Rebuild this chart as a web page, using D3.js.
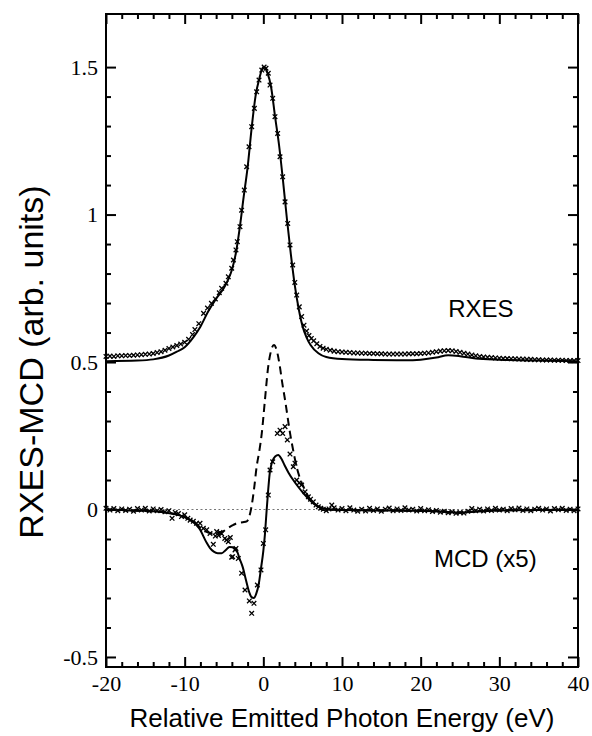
<!DOCTYPE html>
<html>
<head>
<meta charset="utf-8">
<script src="https://cdn.jsdelivr.net/npm/d3@7"></script>
<style>
body { margin: 0; background: #fff; }
svg { display: block; }
</style>
</head>
<body>
<div id="chart"></div>
<script>
"use strict";

// == DATA ==
// RXES measured points [energy eV, intensity]
var rxesData = [
	[-20, .519], [-19.5, .520], [-19, .519], [-18.5, .521], [-18, .521], [-17.5, .522], [-17, .522],
	[-16.5, .523], [-16, .524], [-15.5, .525], [-15, .526], [-14.5, .527], [-14, .529], [-13.5, .532],
	[-13, .535], [-12.5, .540], [-12, .546], [-11.5, .551], [-11, .556], [-10.5, .561], [-10, .567],
	[-9.5, .577], [-9, .593], [-8.7, .610], [-8.2, .630], [-7.6, .665], [-7.1, .683], [-6.6, .699],
	[-6.1, .714], [-5.6, .735], [-5.3, .750], [-4.75, .767], [-4.45, .789], [-4.02, .818], [-3.8, .846],
	[-3.48, .880], [-3.31, .908], [-2.97, .959], [-2.76, 1.015], [-2.42, 1.083], [-2.12, 1.162],
	[-1.82, 1.230], [-1.48, 1.298], [-1.14, 1.360], [-0.85, 1.416], [-0.55, 1.456], [-0.2, 1.490],
	[0.1, 1.500], [0.34, 1.496], [0.63, 1.479], [0.85, 1.439], [1.19, 1.394], [1.48, 1.332],
	[1.82, 1.275], [2.12, 1.196], [2.46, 1.128], [2.76, 1.043], [3.1, .970], [3.39, .897],
	[3.73, .829], [4.0, .770], [4.24, .727], [4.57, .687], [4.87, .654], [5.17, .625], [5.5, .605],
	[5.8, .590], [6.1, .580], [6.4, .572], [6.8, .562], [7.2, .553], [7.6, .547], [8, .543],
	[8.5, .540], [9, .537], [9.5, .535], [10, .534], [10.5, .533], [11, .532], [11.5, .531],
	[12, .531], [12.5, .530], [13, .530], [13.5, .529], [14, .529], [14.5, .528], [15, .528],
	[15.5, .527], [16, .527], [16.5, .527], [17, .527], [17.5, .527], [18, .527], [18.5, .528],
	[19, .528], [19.5, .528], [20, .529], [20.5, .530], [21, .531], [21.5, .533], [22, .535],
	[22.5, .537], [23, .538], [23.5, .539], [24, .538], [24.5, .536], [25, .533], [25.5, .530],
	[26, .527], [26.5, .524], [27, .521], [27.5, .519], [28, .517], [28.5, .516], [29, .515],
	[29.5, .514], [30, .513], [30.5, .512], [31, .512], [31.5, .511], [32, .511], [32.5, .510],
	[33, .510], [33.5, .509], [34, .509], [34.5, .508], [35, .508], [35.5, .507], [36, .507],
	[36.5, .507], [37, .506], [37.5, .506], [38, .506], [38.5, .505], [39, .505], [39.5, .505], [40, .505]
];

// RXES calculation (solid line)
var rxesCalc = [
	[-20, .503], [-16, .505], [-14, .509], [-12, .522], [-11, .535], [-10, .550], [-9, .580],
	[-8, .620], [-7, .672], [-6, .715], [-5, .752], [-4.5, .778], [-4, .812], [-3.5, .868],
	[-3, .955], [-2.5, 1.060], [-2, 1.160], [-1.5, 1.290], [-1, 1.400], [-0.5, 1.462], [0, 1.500],
	[0.5, 1.482], [1, 1.430], [1.5, 1.330], [2, 1.235], [2.5, 1.115], [3, .985], [3.5, .865],
	[4, .760], [4.5, .680], [5, .620], [5.5, .583], [6, .558], [7, .530], [8, .517], [10, .510],
	[14, .507], [18, .506], [20, .508], [22, .515], [23.5, .523], [25, .520], [27, .512],
	[30, .508], [35, .505], [40, .503]
];

// MCD (x5) measured points
var mcdData = [
	[-20, .004], [-19.5, -.002], [-19, .003], [-18.5, -.004], [-18, .002], [-17.5, -.003], [-17, .001],
	[-16.5, -.006], [-16, .003], [-15.5, -.002], [-15, .004], [-14.5, -.005], [-14, .002], [-13.5, -.004],
	[-13, .000], [-12.5, -.008], [-12, -.004], [-11.6, -.030], [-11.2, -.010], [-10.8, -.014],
	[-10.4, -.024], [-10, -.018], [-9.6, -.030], [-9.3, -.036], [-8.9, -.040], [-8.5, -.047],
	[-8.05, -.047], [-7.63, -.064], [-7.2, -.069], [-6.78, -.081], [-6.36, -.118], [-6.1, -.090],
	[-5.93, -.075], [-5.7, -.088], [-5.51, -.078], [-5.3, -.082], [-4.9, -.098], [-4.66, -.103],
	[-4.45, -.109], [-4.2, -.095], [-4.02, -.162], [-3.9, -.160], [-3.6, -.137], [-3.48, -.132],
	[-3.18, -.166], [-2.76, -.216], [-2.33, -.273], [-1.78, -.310], [-1.48, -.352], [-1.19, -.318],
	[-0.76, -.256], [-0.3, -.205], [0, -.115], [0.3, -.069], [0.63, .049], [0.85, .134], [1.19, .162],
	[1.78, .258], [2.12, .269], [2.46, .258], [2.76, .281], [3.05, .236], [3.39, .188], [3.81, .145],
	[4.02, .157], [4.24, .100], [4.55, .090], [4.87, .083], [5.3, .060], [5.72, .043], [6.0, .035],
	[6.35, .026], [6.7, .015], [6.99, .009], [7.3, .004], [7.62, .001], [8, -.004], [8.35, .002],
	[8.7, .015], [9, .006], [9.5, -.002], [10, .003], [10.5, -.004], [11, .006], [11.5, -.002],
	[12, -.006], [12.5, .001], [13, -.005], [13.5, .004], [14, -.003], [14.5, .002], [15, -.006],
	[15.5, .001], [16, .005], [16.5, -.004], [17, .002], [17.5, -.003], [18, .006], [18.5, -.002],
	[19, .001], [19.5, -.005], [20, .003], [20.5, -.004], [21, -.001], [21.5, -.007], [22, -.003],
	[22.5, -.009], [23, -.006], [23.5, -.011], [24, -.008], [24.5, -.013], [25, -.010], [25.5, -.012],
	[26, -.006], [26.5, .003], [27, -.004], [27.5, .001], [28, -.005], [28.5, .002], [29, -.003],
	[29.5, .004], [30, -.002], [30.5, .001], [31, -.004], [31.5, .003], [32, -.001], [32.5, .005],
	[33, -.003], [33.5, .002], [34, -.004], [34.5, .001], [35, .004], [35.5, -.002], [36, .002],
	[36.5, -.005], [37, .003], [37.5, -.001], [38, .004], [38.5, -.003], [39, .001], [39.5, -.004], [40, .002]
];

// MCD calculation (solid line)
var mcdCalc = [
	[-20, .000], [-18, -.002], [-16, -.004], [-14, -.006], [-12.5, -.010], [-11, -.017], [-10, -.026],
	[-9.3, -.036], [-8.5, -.053], [-8, -.070], [-7.6, -.092], [-7.2, -.113], [-6.8, -.130],
	[-6.3, -.143], [-5.8, -.148], [-5.3, -.148], [-4.8, -.138], [-4.3, -.127], [-3.9, -.128],
	[-3.4, -.138], [-3, -.168], [-2.6, -.197], [-2.2, -.240], [-1.8, -.280], [-1.5, -.297],
	[-1.2, -.300], [-0.9, -.285], [-0.6, -.255], [-0.3, -.200], [0, -.140], [0.2, -.085],
	[0.4, -.010], [0.6, .060], [0.8, .120], [1.1, .160], [1.5, .180], [1.9, .185], [2.3, .172],
	[2.7, .150], [3.2, .125], [3.8, .100], [4.4, .078], [5.1, .055], [5.8, .035], [6.4, .020],
	[7, .010], [7.6, .004], [8.5, .000], [10, -.002], [14, -.003], [18, -.004], [22, -.006],
	[25, -.011], [27, -.007], [30, -.003], [35, -.002], [40, -.001]
];

// MCD calculation (dashed line)
var mcdCalcDash = [
	[-20, .000], [-18, -.002], [-16, -.004], [-14, -.006], [-12.5, -.010], [-11, -.017], [-10, -.026],
	[-9.3, -.036], [-8.5, -.050], [-8, -.062], [-7.5, -.072], [-7, -.078], [-6.4, -.081],
	[-5.8, -.079], [-5.1, -.074], [-4.5, -.063], [-3.8, -.052], [-3.2, -.045], [-2.6, -.043],
	[-2.1, -.040], [-1.8, -.025], [-1.5, .010], [-1.2, .065], [-0.85, .145], [-0.5, .200],
	[-0.2, .258], [0.2, .370], [0.6, .480], [1, .540], [1.35, .558], [1.7, .540], [2.1, .485],
	[2.4, .430], [2.8, .365], [3.4, .258], [3.8, .200], [4.2, .148], [4.6, .110], [5.1, .077],
	[5.7, .045], [6.4, .021], [7, .010], [7.6, .004], [8.5, .000], [10, -.002], [14, -.003],
	[18, -.004], [22, -.006], [25, -.011], [27, -.007], [30, -.003], [35, -.002], [40, -.001]
];

var xMajor = [-20, -10, 0, 10, 20, 30, 40];
var yMajor = [-0.5, 0, 0.5, 1, 1.5];
var xTickLabels = ["-20", "-10", "0", "10", "20", "30", "40"];
var yTickLabels = ["-0.5", "0", "0.5", "1", "1.5"];

// == BOILERPLATE ==
var W = 592, H = 736;
var margin = { top: 14, right: 14, bottom: 69, left: 106 },
	width = W - margin.left - margin.right,
	height = H - margin.top - margin.bottom;

var svg = d3.select("#chart")
	.append("svg")
	.attr("width", W)
	.attr("height", H);

var g = svg.append("g")
	.attr("transform", "translate(" + margin.left + "," + margin.top + ")");

var x = d3.scaleLinear().domain([-20, 40]).range([0, width]);
var y = d3.scaleLinear().domain([-0.534, 1.68]).range([height, 0]);

// minor ticks every 2 eV and every 0.1
var xMinor = d3.range(-20, 40.01, 2).filter(function (d) { return d % 10 !== 0; });
var yMinor = d3.range(-5, 16).map(function (d) { return d / 10; })
	.filter(function (d) { return Math.abs(d * 2 - Math.round(d * 2)) > 1e-6; });

var serif = "'Liberation Serif', 'Times New Roman', serif";
var sans = "'Liberation Sans', Arial, Helvetica, sans-serif";

function styleAxis(sel) {
	sel.select(".domain").remove();
	sel.selectAll("line").attr("stroke", "#000").attr("stroke-width", 2);
	sel.selectAll("text").attr("font-family", serif).attr("font-size", 22).attr("fill", "#000");
}

function fmtX(d) { return xTickLabels[xMajor.indexOf(d)]; }
function fmtY(d) { return yTickLabels[yMajor.indexOf(d)]; }

// bottom / top
g.append("g").attr("transform", "translate(0," + height + ")")
	.call(d3.axisBottom(x).tickValues(xMajor).tickSize(-10).tickPadding(8).tickFormat(fmtX))
	.call(styleAxis);
g.append("g").attr("transform", "translate(0," + height + ")")
	.call(d3.axisBottom(x).tickValues(xMinor).tickSize(-5).tickFormat(""))
	.call(styleAxis);
g.append("g")
	.call(d3.axisTop(x).tickValues(xMajor).tickSize(-10).tickFormat(""))
	.call(styleAxis);
g.append("g")
	.call(d3.axisTop(x).tickValues(xMinor).tickSize(-5).tickFormat(""))
	.call(styleAxis);

// left / right
g.append("g")
	.call(d3.axisLeft(y).tickValues(yMajor).tickSize(-10).tickPadding(8).tickFormat(fmtY))
	.call(styleAxis);
g.append("g")
	.call(d3.axisLeft(y).tickValues(yMinor).tickSize(-5).tickFormat(""))
	.call(styleAxis);
g.append("g").attr("transform", "translate(" + width + ",0)")
	.call(d3.axisRight(y).tickValues(yMajor).tickSize(-10).tickFormat(""))
	.call(styleAxis);
g.append("g").attr("transform", "translate(" + width + ",0)")
	.call(d3.axisRight(y).tickValues(yMinor).tickSize(-5).tickFormat(""))
	.call(styleAxis);

// frame
g.append("rect")
	.attr("width", width).attr("height", height)
	.attr("fill", "none").attr("stroke", "#000").attr("stroke-width", 2);

// zero reference (dotted)
g.append("line")
	.attr("x1", x(-20)).attr("x2", x(40))
	.attr("y1", y(0)).attr("y2", y(0))
	.attr("stroke", "#777").attr("stroke-width", 1.2)
	.attr("stroke-dasharray", "2,2.5");

var line = d3.line()
	.x(function (d) { return x(d[0]); })
	.y(function (d) { return y(d[1]); })
	.curve(d3.curveMonotoneX);

g.append("path").datum(rxesCalc)
	.attr("d", line).attr("fill", "none").attr("stroke", "#000").attr("stroke-width", 2);
g.append("path").datum(mcdCalc)
	.attr("d", line).attr("fill", "none").attr("stroke", "#000").attr("stroke-width", 2);
g.append("path").datum(mcdCalcDash)
	.attr("d", line).attr("fill", "none").attr("stroke", "#000").attr("stroke-width", 2)
	.attr("stroke-dasharray", "8,5");

// x markers for data
var cross = "M-2.3,-2.3L2.3,2.3M-2.3,2.3L2.3,-2.3";
function drawCrosses(data) {
	g.append("g").selectAll("path")
		.data(data)
		.enter().append("path")
		.attr("d", cross)
		.attr("transform", function (d) { return "translate(" + x(d[0]) + "," + y(d[1]) + ")"; })
		.attr("fill", "none").attr("stroke", "#000").attr("stroke-width", 1.3);
}
drawCrosses(rxesData);
drawCrosses(mcdData);

// labels
g.append("text").attr("x", x(23.5)).attr("y", y(0.653))
	.attr("font-family", sans).attr("font-size", 24).text("RXES");
g.append("text").attr("x", x(21.7)).attr("y", y(-0.194))
	.attr("font-family", sans).attr("font-size", 24).text("MCD (x5)");

svg.append("text")
	.attr("x", margin.left + width / 2).attr("y", 727)
	.attr("text-anchor", "middle")
	.attr("font-family", sans).attr("font-size", 26)
	.text("Relative Emitted Photon Energy (eV)");

svg.append("text")
	.attr("transform", "translate(43,362) rotate(-90)")
	.attr("text-anchor", "middle")
	.attr("font-family", sans).attr("font-size", 34)
	.text("RXES-MCD (arb. units)");
</script>
</body>
</html>
